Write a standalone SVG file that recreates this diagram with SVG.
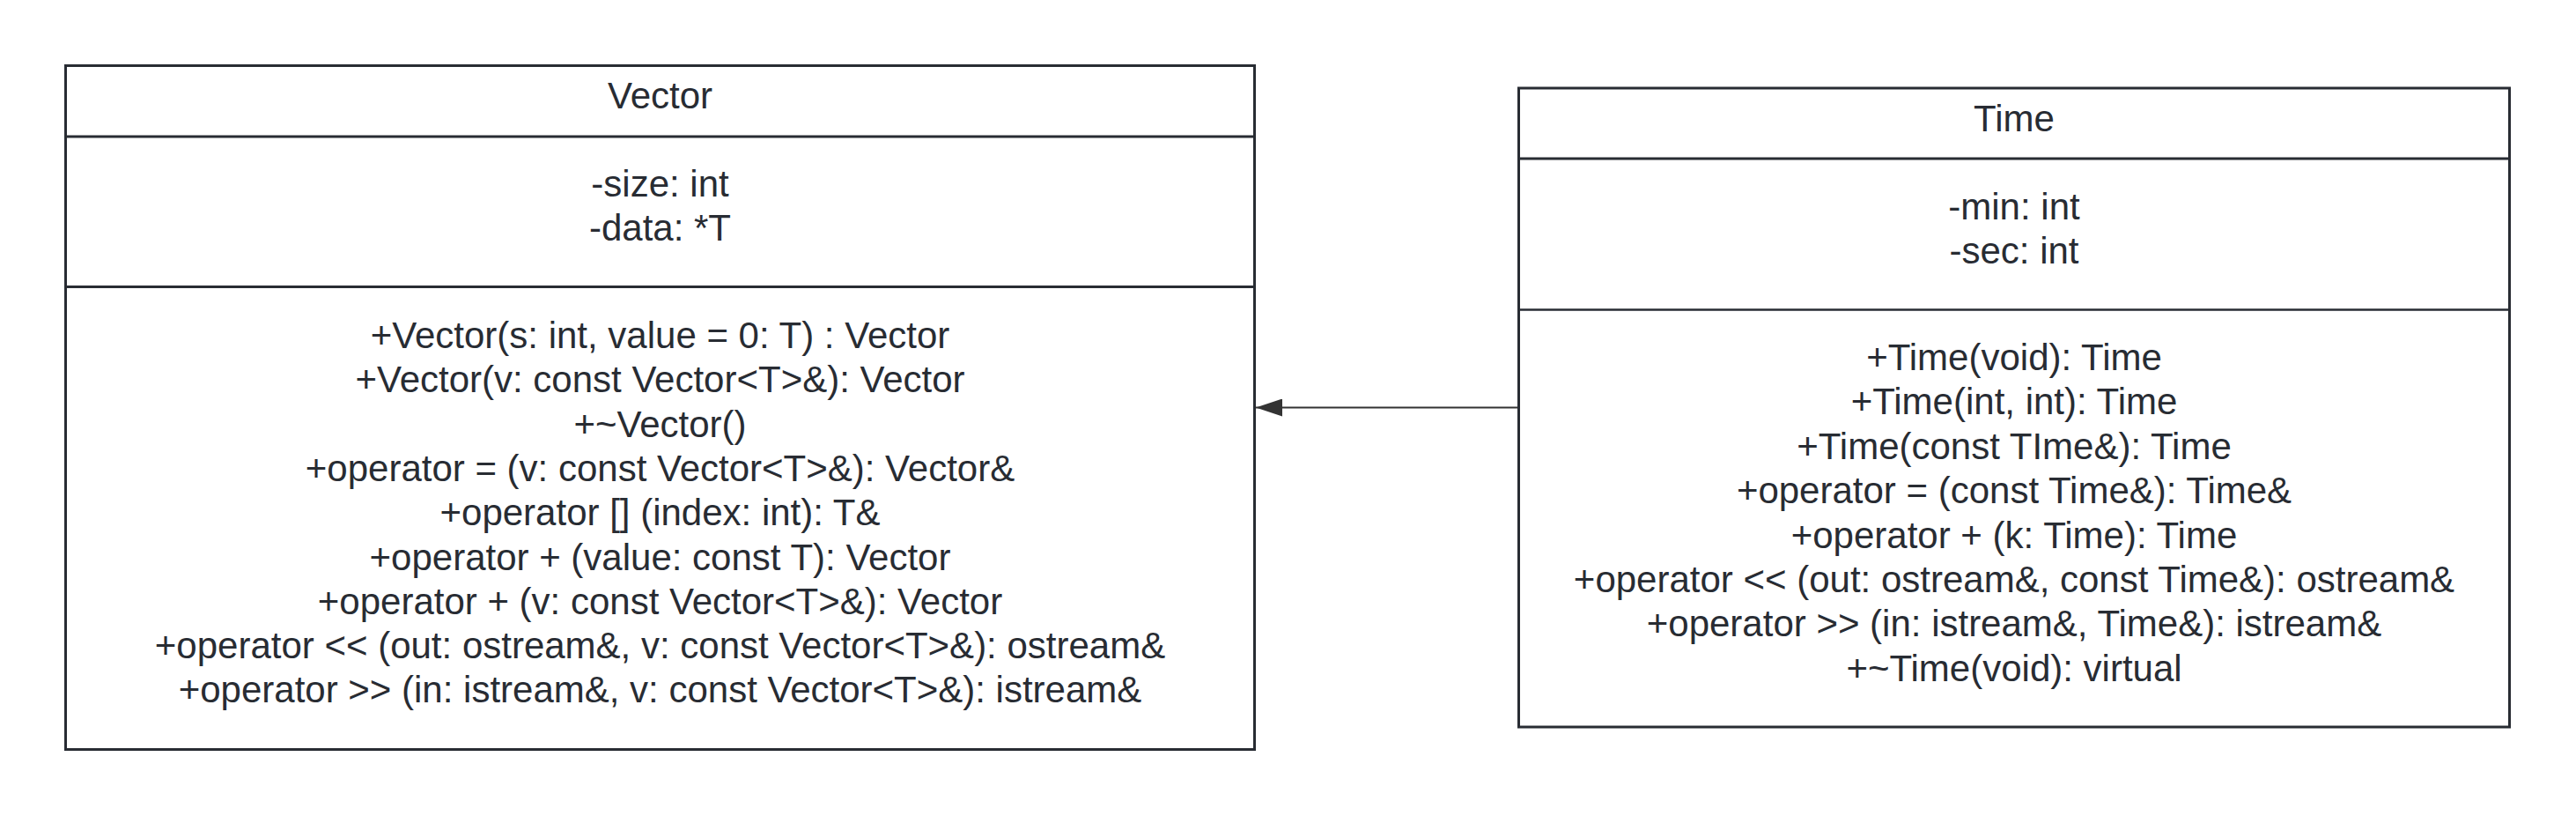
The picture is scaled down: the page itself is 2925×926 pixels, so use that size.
<svg xmlns="http://www.w3.org/2000/svg" width="2925" height="926" viewBox="0 0 2925 926">
<style>
.box{fill:#ffffff;stroke:#282c33;stroke-width:3}
.div{stroke:#282c33;stroke-width:3}
.t{font-family:"Liberation Sans",Arial,sans-serif;font-size:42px;fill:#282c33;text-anchor:middle}
.conn{stroke:#333333;stroke-width:2;fill:none}
</style>
<defs>
<marker id="arrow" markerWidth="30" markerHeight="20" refX="30" refY="10" orient="auto" markerUnits="userSpaceOnUse">
<path d="M0,0 L30,10 L0,20 Z" fill="#333333"/>
</marker>
</defs>
<rect width="2925" height="926" fill="#ffffff"/>
<g id="connectors">
<line class="conn" x1="1723" y1="462.5" x2="1426" y2="462.5" marker-end="url(#arrow)"/>
</g>
<g id="node-vector">
<rect class="box" x="74.5" y="74.5" width="1350" height="776"/>
<line class="div" x1="74.5" y1="155" x2="1424.5" y2="155"/>
<line class="div" x1="74.5" y1="325.5" x2="1424.5" y2="325.5"/>
<text class="t" x="749.5" y="123">Vector</text>
<text class="t" x="749.5" y="223">-size: int</text>
<text class="t" x="749.5" y="273">-data: *T</text>
<text class="t" x="749.5" y="395">+Vector(s: int, value = 0: T) : Vector</text>
<text class="t" x="749.5" y="445.3">+Vector(v: const Vector&lt;T&gt;&amp;): Vector</text>
<text class="t" x="749.5" y="495.6">+~Vector()</text>
<text class="t" x="749.5" y="545.9">+operator = (v: const Vector&lt;T&gt;&amp;): Vector&amp;</text>
<text class="t" x="749.5" y="596.2">+operator [] (index: int): T&amp;</text>
<text class="t" x="749.5" y="646.5">+operator + (value: const T): Vector</text>
<text class="t" x="749.5" y="696.8">+operator + (v: const Vector&lt;T&gt;&amp;): Vector</text>
<text class="t" x="749.5" y="747.1">+operator &lt;&lt; (out: ostream&amp;, v: const Vector&lt;T&gt;&amp;): ostream&amp;</text>
<text class="t" x="749.5" y="797.4">+operator &gt;&gt; (in: istream&amp;, v: const Vector&lt;T&gt;&amp;): istream&amp;</text>
</g>
<g id="node-time">
<rect class="box" x="1724.5" y="100" width="1125" height="725"/>
<line class="div" x1="1724.5" y1="180" x2="2849.5" y2="180"/>
<line class="div" x1="1724.5" y1="351.5" x2="2849.5" y2="351.5" style="stroke-width:2.5"/>
<text class="t" x="2287" y="148.5">Time</text>
<text class="t" x="2287" y="248.5">-min: int</text>
<text class="t" x="2287" y="298.5">-sec: int</text>
<text class="t" x="2287" y="420">+Time(void): Time</text>
<text class="t" x="2287" y="470.4">+Time(int, int): Time</text>
<text class="t" x="2287" y="520.8">+Time(const TIme&amp;): Time</text>
<text class="t" x="2287" y="571.2">+operator = (const Time&amp;): Time&amp;</text>
<text class="t" x="2287" y="621.6">+operator + (k: Time): Time</text>
<text class="t" x="2287" y="672">+operator &lt;&lt; (out: ostream&amp;, const Time&amp;): ostream&amp;</text>
<text class="t" x="2287" y="722.4">+operator &gt;&gt; (in: istream&amp;, Time&amp;): istream&amp;</text>
<text class="t" x="2287" y="772.8">+~Time(void): virtual</text>
</g>
</svg>
